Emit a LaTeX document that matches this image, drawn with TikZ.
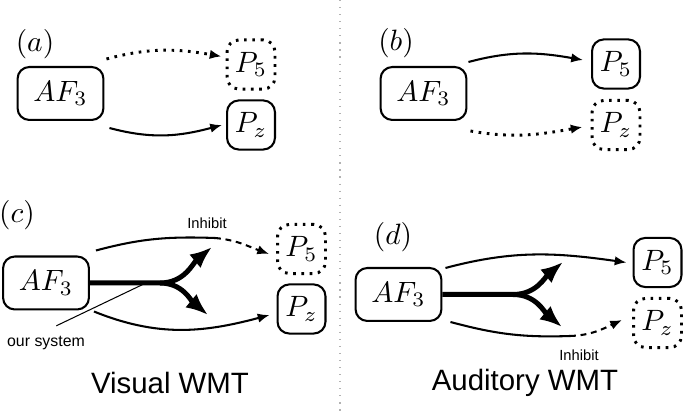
\documentclass[tikz,border=0pt]{standalone}
\usepackage{fontspec}
\setsansfont{Liberation Sans}
\usetikzlibrary{arrows.meta}

\tikzset{
  box/.style={draw,line width=0.7pt,rounded corners=4pt,inner sep=0pt},
  afbox/.style={box,minimum width=29.2pt,minimum height=18pt},
  pbox/.style={box,minimum width=16.3pt,minimum height=16.7pt},
  offbox/.style={pbox,line width=1pt,dash pattern=on 0.9pt off 1.9pt},
  link/.style={line width=0.7pt,-{Latex[length=4pt,width=3.2pt]}},
  offlink/.style={link,line width=1pt,dash pattern=on 0.9pt off 1.9pt},
  inhlink/.style={link,dash pattern=on 2pt off 1.6pt},
  branch/.style={line width=1.7pt,-{Latex[length=7.5pt,width=6pt]}},
  smalltxt/.style={font=\sffamily\fontsize{5}{6}\selectfont},
  captiontxt/.style={font=\sffamily\fontsize{10}{12}\selectfont},
}

\begin{document}
\begin{tikzpicture}[x=0.34pt,y=-0.34pt]
    \useasboundingbox (0,0) rectangle (685,415);

    % divider
    \draw [gray!60,dotted,line width=0.4pt] (340,0) -- (340,415);

    % (a)
    \node (laba) at (35,44) {$(a)$};
    \node [afbox] (afa) at (60.5,93.5) {$AF_3$};
    \node [offbox] (pfa) at (251,64.5) {$P_5$};
    \node [pbox] (pza) at (251,125) {$P_z$};

    \draw [offlink] ([shift={(2,-7)}]afa.north east) to [out=15,in=170] ([shift={(-4,-8)}]pfa.west);
    \draw [link] ([shift={(5,7)}]afa.south east) to [out=-15,in=195] ([shift={(-4,0)}]pza.west);

    % (b)
    \node (labb) at (396,43) {$(b)$};
    \node [afbox] (afb) at (423.5,93.5) {$AF_3$};
    \node [pbox] (pfb) at (616,64) {$P_5$};
    \node [offbox] (pzb) at (616,125) {$P_z$};

    \draw [link] ([shift={(1,-4)}]afb.north east) to [out=15,in=170] ([shift={(-8,-4)}]pfb.west);
    \draw [offlink] ([shift={(3,10)}]afb.south east) to [out=-10,in=190] ([shift={(-8,2)}]pzb.west);

    % (c)
    \node (labc) at (17,215) {$(c)$};
    \node [afbox] (afc) at (46,283) {$AF_3$};
    \node [offbox] (pfc) at (301.5,249) {$P_5$};
    \node [pbox] (pzc) at (301.5,309) {$P_z$};

    \coordinate (ihc) at (215,238);
    \draw [line width=0.7pt] ([shift={(6,-5)}]afc.north east) to [out=15,in=178] (ihc);
    \draw [inhlink] (ihc) to [out=-5,in=160] ([shift={(-7,5)}]pfc.west);
    \node [smalltxt] (inhc) at (207,223) {Inhibit};
    \draw [link] ([shift={(4,1)}]afc.south east) to [out=-22,in=195] ([shift={(-7,6)}]pzc.west);

    \coordinate (brc) at (160,283);
    \coordinate (upc) at (212,247);
    \coordinate (dnc) at (208,315);
    \draw [branch] (afc.east) -- (brc) to [out=0,in=220] (upc);
    \draw [branch] (brc) to [out=0,in=140] (dnc);

    \node [smalltxt,font=\sffamily\fontsize{5.4}{6}\selectfont] (sysc) at (46,343) {our system};
    \draw [line width=0.35pt] ([xshift=3.5pt]sysc.north) -- (148,282);

    \node [captiontxt] (capc) at (170,383) {Visual WMT};

    % (d)
    \node (labd) at (393,237) {$(d)$};
    \node [afbox] (afd) at (398.5,294.5) {$AF_3$};
    \node [pbox] (pfd) at (657.5,262.5) {$P_5$};
    \node [offbox] (pzd) at (657.5,323) {$P_z$};

    \draw [link] ([shift={(3,1)}]afd.north east) to [out=15,in=172] ([shift={(-6,0)}]pfd.west);
    \coordinate (ihd) at (570,336);
    \draw [line width=0.7pt] ([shift={(8,0)}]afd.south east) to [out=-15,in=182] (ihd);
    \draw [inhlink] (ihd) to [out=2,in=205] ([shift={(-10,-3)}]pzd.west);
    \node [smalltxt] (inhd) at (579,355) {Inhibit};

    \coordinate (brd) at (513,294.5);
    \coordinate (upd) at (563,262);
    \coordinate (dnd) at (562,327);
    \draw [branch] (afd.east) -- (brd) to [out=0,in=220] (upd);
    \draw [branch] (brd) to [out=0,in=140] (dnd);

    \node [captiontxt] (capd) at (525,383) {Auditory WMT};
\end{tikzpicture}
\end{document}
